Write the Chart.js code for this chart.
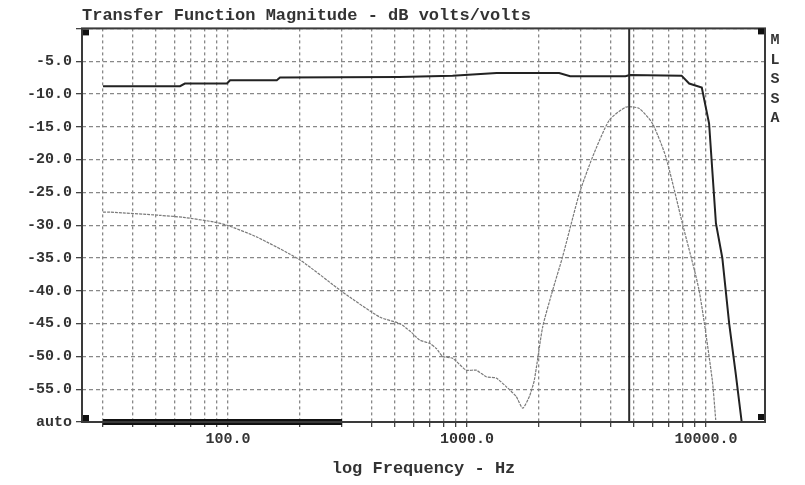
<!DOCTYPE html>
<html>
<head>
<meta charset="utf-8">
<script src="https://cdn.jsdelivr.net/npm/chart.js@4"></script>
<style>
  body { margin: 0; background: #fff; }
  canvas { display: block; }
</style>
</head>
<body>
<canvas id="mlssaChart" width="805" height="485"></canvas>
<script>
        // Curva de magnitud principal (linea negra)
        const mainFreq = [30, 63, 66, 99, 102, 160, 165, 520, 870, 1330, 2430, 2700, 4600, 4800, 7900, 8500, 9600, 10300, 11000, 11700, 12500, 13300, 14100];
        const mainDb = [-8.8, -8.8, -8.4, -8.4, -7.9, -7.9, -7.5, -7.4, -7.2, -6.8, -6.8, -7.3, -7.3, -7.1, -7.2, -8.4, -9.0, -14.5, -29.7, -35.0, -45.0, -52.5, -60.0];

        // Curva secundaria (linea gris punteada)
        const secFreq = [30, 32, 52, 65, 87, 99, 132, 200, 302, 431, 523, 580, 633, 697, 744, 792, 872, 992, 1092, 1203, 1324, 1458, 1605, 1710, 1824, 1913, 2073, 2283, 2512, 2949, 3352, 3936, 4620, 5250, 5970, 6790, 7960, 9350, 10620, 10980];
        const secDb = [-28.0, -28.0, -28.5, -28.8, -29.5, -30.0, -31.8, -35.3, -40.2, -44.0, -45.0, -46.2, -47.5, -48.0, -48.8, -50.0, -50.3, -52.1, -52.1, -53.1, -53.3, -54.6, -56.1, -57.9, -56.1, -53.6, -45.5, -39.9, -34.8, -25.2, -19.6, -14.0, -12.0, -12.2, -14.5, -19.6, -29.7, -39.9, -53.6, -59.7];

        // Cursor y ventana de tiempo
        const cursorFreq = 4770;
        const windowFreq = [30, 300];

        // Ticks del eje x
        const xGridFreqs = [30, 40, 50, 60, 70, 80, 90, 100, 200, 300, 400, 500, 600, 700, 800, 900,
            1000, 2000, 3000, 4000, 5000, 6000, 7000, 8000, 9000, 10000];
        const xLabelFreqs = [100, 1000, 10000];
        const sideLetters = ['M', 'L', 'S', 'S', 'A'];

        const toPoints = (xs, ys) => xs.map((x, i) => ({ x: x, y: ys[i] }));

        // Marco, esquinas y texto lateral
        const framePlugin = {
            id: 'frame',
            afterDatasetsDraw(chart) {
                const { ctx, chartArea: a } = chart;
                ctx.save();
                ctx.strokeStyle = '#3a3a3a';
                ctx.lineWidth = 2;
                ctx.strokeRect(a.left, a.top, a.right - a.left, a.bottom - a.top);
                ctx.fillStyle = '#111';
                const s = 6;
                ctx.fillRect(a.left + 1, a.top + 1, s, s);
                ctx.fillRect(a.right - 1 - s, a.top, s, s);
                ctx.fillRect(a.left + 1, a.bottom - 4 - s / 2, s, s);
                ctx.fillRect(a.right - 1 - s, a.bottom - 2 - s, s, s);
                ctx.fillStyle = '#333';
                ctx.font = 'bold 15px "Liberation Mono"';
                ctx.textAlign = 'center';
                ctx.textBaseline = 'middle';
                sideLetters.forEach((ch, i) => {
                    ctx.fillText(ch, a.right + 10, a.top + 12 + i * 19.5);
                });
                ctx.restore();
            }
        };

        const mlssaConfig = {
            type: 'line',
            data: {
                datasets: [{
                    data: toPoints([cursorFreq, cursorFreq], [0, -60]),
                    borderColor: '#2a2a2a',
                    borderWidth: 2,
                    pointRadius: 0
                }, {
                    data: toPoints(mainFreq, mainDb),
                    borderColor: '#222',
                    borderWidth: 2,
                    pointRadius: 0,
                    tension: 0
                }, {
                    data: toPoints(secFreq, secDb),
                    borderColor: '#7a7a7a',
                    borderWidth: 1.2,
                    borderDash: [3, 1],
                    pointRadius: 0,
                    tension: 0.2
                }, {
                    data: toPoints(windowFreq, [-60, -60]),
                    borderColor: '#111',
                    borderWidth: 6,
                    pointRadius: 0,
                    clip: false
                }]
            },
            options: {
                responsive: false,
                animation: false,
                layout: { padding: { left: 0, right: 40, top: 0, bottom: 0 } },
                plugins: {
                    legend: { display: false },
                    tooltip: { enabled: false },
                    title: {
                        display: true,
                        text: 'Transfer Function Magnitude - dB volts/volts',
                        align: 'start',
                        fullSize: false,
                        color: '#333',
                        font: { family: 'Liberation Mono', size: 17, weight: 'bold' },
                        padding: { top: 6, bottom: 2 }
                    }
                },
                scales: {
                    x: {
                        type: 'logarithmic',
                        min: 24.5,
                        max: 17650,
                        afterBuildTicks: (scale) => {
                            scale.ticks = xGridFreqs.map(v => ({ value: v }));
                        },
                        afterFit: (scale) => { scale.height = 63; },
                        ticks: {
                            autoSkip: false,
                            maxRotation: 0,
                            padding: 3,
                            color: '#333',
                            font: { family: 'Liberation Mono', size: 15, weight: 'bold' },
                            callback: (value) => xLabelFreqs.includes(value) ? value.toFixed(1) : ''
                        },
                        grid: { color: '#888', lineWidth: 1.3, tickColor: '#444', tickLength: 5 },
                        border: { display: false, dash: [3, 3] },
                        title: {
                            display: true,
                            text: 'log Frequency - Hz',
                            color: '#333',
                            font: { family: 'Liberation Mono', size: 17, weight: 'bold' },
                            padding: { top: 4, bottom: 6 }
                        }
                    },
                    y: {
                        min: -60,
                        max: 0,
                        afterFit: (scale) => { scale.width = 82; },
                        ticks: {
                            stepSize: 5,
                            padding: 4,
                            color: '#333',
                            font: { family: 'Liberation Mono', size: 15, weight: 'bold' },
                            callback: (v) => v === -60 ? 'auto' : (v === 0 ? '' : v.toFixed(1))
                        },
                        grid: { color: '#888', lineWidth: 1.3, tickColor: '#444', tickLength: 6 },
                        border: { display: false, dash: [4, 3] }
                    }
                }
            },
            plugins: [framePlugin]
        };

        const mlssaChart = new Chart(
            document.getElementById('mlssaChart'),
            mlssaConfig
        );
</script>
</body>
</html>
